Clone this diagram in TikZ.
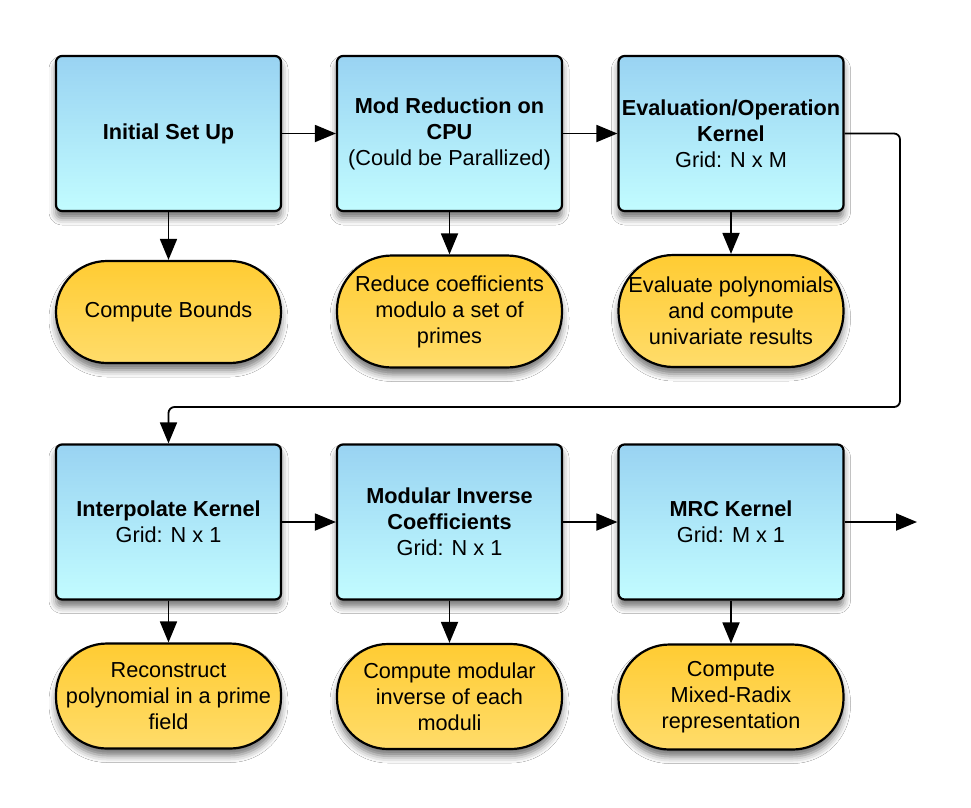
\documentclass[tikz,border=0pt]{standalone}
\usepackage{fontspec}
\setmainfont{Liberation Sans}
\usetikzlibrary{arrows.meta,shadows.blur}
\definecolor{boxtop}{HTML}{99D3F2}
\definecolor{boxbot}{HTML}{C2FCFF}
\definecolor{ovtop}{HTML}{FFCC33}
\definecolor{ovbot}{HTML}{FFDC6A}
\begin{document}
\begin{tikzpicture}[x=1pt,y=-1pt,
  sh/.style={blur shadow={shadow xshift=0pt, shadow yshift=-7pt, shadow blur radius=7pt, shadow opacity=55}},
  kbox/.style={sh, draw=black, line width=2.2pt, rounded corners=6pt,
    minimum width=225pt, minimum height=155pt, inner sep=0pt,
    top color=boxtop, bottom color=boxbot, align=center,
    font=\fontsize{21.7}{26}\selectfont},
  oval/.style={sh, draw=black, line width=2.2pt, rounded corners=51pt,
    minimum width=225pt, minimum height=105pt, inner sep=0pt,
    top color=ovtop, bottom color=ovbot, align=center,
    font=\fontsize{21.7}{26}\selectfont},
  conn/.style={draw=black, line width=1.8pt, -{Triangle[length=21pt,width=17pt]}}
]
\useasboundingbox (0,0) rectangle (971,807);
\fill[white] (0,0) rectangle (971,807);

% row 1
\node[kbox] (b1) at (168.5,133.5) {\textbf{Initial Set Up}};
\node[kbox] (b2) at (449.5,133.5) {\textbf{Mod Reduction on}\\\textbf{CPU}\\(Could be Parallized)};
\node[kbox] (b3) at (731,133.5) {\textbf{Evaluation/Operation}\\\textbf{Kernel}\\Grid: N x M};

\node[oval, minimum height=102pt] (o1) at (168.5,312) {Compute Bounds};
\node[oval, minimum height=112pt, rounded corners=55pt] (o2) at (449.5,311.5) {Reduce coefficients\\modulo a set of\\primes};
\node[oval, minimum height=112pt, rounded corners=55pt] (o3) at (731,311) {Evaluate polynomials\\and compute\\univariate results};

% row 2
\node[kbox] (b4) at (168.5,522) {\textbf{Interpolate Kernel}\\Grid: N x 1};
\node[kbox] (b5) at (449.5,522) {\textbf{Modular Inverse}\\\textbf{Coefficients}\\Grid: N x 1};
\node[kbox] (b6) at (731,522) {\textbf{MRC Kernel}\\Grid: M x 1};

\node[oval] (o4) at (168.5,696) {Reconstruct\\polynomial in a prime\\field};
\node[oval] (o5) at (449.5,696.5) {Compute modular\\inverse of each\\moduli};
\node[oval] (o6) at (731,697) {Compute\\Mixed-Radix\\representation};

% connectors
\draw[conn] (b1) -- (b2);
\draw[conn] (b2) -- (b3);
\draw[conn] (b1) -- (o1);
\draw[conn] (b2) -- (o2);
\draw[conn] (b3) -- (o3);

\coordinate (fbR) at (900,407);
\draw[conn, rounded corners=6pt] (b3.east) -| (fbR) -| (b4.north);

\draw[conn] (b4) -- (b5);
\draw[conn] (b5) -- (b6);
\draw[conn] (b4) -- (o4);
\draw[conn] (b5) -- (o5);
\draw[conn] (b6) -- (o6);

\coordinate (out) at (917,522);
\draw[conn] (b6.east) -- (out);
\end{tikzpicture}
\end{document}
